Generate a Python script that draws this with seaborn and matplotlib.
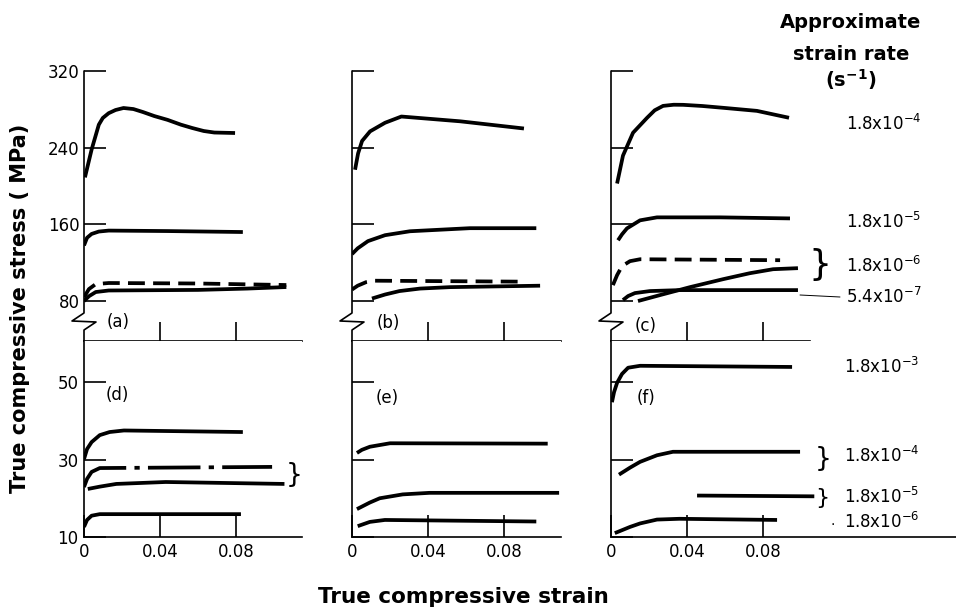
import matplotlib
matplotlib.use("Agg")
import matplotlib.pyplot as plt
from matplotlib.lines import Line2D
import seaborn as sns

# ---- data (strain, stress in MPa) ----
# (a)
a1_x = [0.0005, 0.004, 0.0078, 0.0099, 0.013, 0.0166, 0.0208, 0.026, 0.031, 0.037,
        0.044, 0.051, 0.057, 0.063, 0.0686, 0.0795]
a1_y = [209, 238, 264, 271, 276, 279.3, 281.4, 280.3, 277.2, 273,
        269, 264, 260.5, 257.4, 255.8, 255.3]
a2_x = [0, 0.0016, 0.004, 0.0078, 0.013, 0.044, 0.0836]
a2_y = [138, 146, 150, 152.5, 153.5, 153, 152]
a3_x = [0, 0.0026, 0.0062, 0.013, 0.06, 0.1065]
a3_y = [84, 92.5, 97.7, 98.8, 98.3, 96.7]
a4_x = [0, 0.0026, 0.0062, 0.013, 0.06, 0.086, 0.1065]
a4_y = [80, 85, 89.4, 91, 91.6, 93, 94.6]
# (b)
b1_x = [0.0016, 0.0032, 0.0053, 0.0095, 0.0174, 0.026, 0.057, 0.0905]
b1_y = [217, 234, 247, 257, 266, 272.5, 267.5, 260]
b2_x = [0, 0.003, 0.0084, 0.0174, 0.0305, 0.062, 0.097]
b2_y = [129, 135, 142.5, 148.7, 152.8, 156, 156]
b3_x = [0, 0.003, 0.0074, 0.012, 0.0516, 0.091]
b3_y = [92, 96, 99.7, 101.2, 100.7, 100.2]
b4_x = [0.0105, 0.0174, 0.025, 0.0358, 0.0516, 0.099]
b4_y = [82.6, 86.8, 90.4, 93, 94.5, 96]
# (c)
c1_x = [0.0032, 0.0063, 0.0116, 0.019, 0.023, 0.0274, 0.033, 0.038, 0.048, 0.059,
        0.0768, 0.0937]
c1_y = [202.6, 231.7, 255.6, 271.2, 279, 283.6, 284.8, 284.7, 283.5, 281.6,
        278.4, 271.2]
c2_x = [0.0037, 0.0058, 0.0084, 0.0153, 0.0242, 0.0574, 0.0942]
c2_y = [143.4, 149.6, 155.8, 164.2, 167.3, 167.3, 166.2]
c3_x = [0.001, 0.0032, 0.0058, 0.01, 0.0153, 0.089]
c3_y = [96.6, 107, 116.4, 121.6, 123.6, 122.6]
c4_x = [0.0142, 0.0258, 0.0416, 0.059, 0.073, 0.0853, 0.0984]
c4_y = [80, 86.2, 94.5, 102.8, 109, 113.2, 114.3]
c5_x = [0.0063, 0.009, 0.0126, 0.0205, 0.0363, 0.0984]
c5_y = [81, 85.2, 88.3, 90.4, 91.4, 91.4]
# (d)
d1_x = [0, 0.0016, 0.004, 0.0083, 0.0135, 0.021, 0.0836]
d1_y = [30.1, 32.7, 34.5, 36.3, 37.1, 37.5, 37.1]
d2_x = [0, 0.0016, 0.004, 0.0083, 0.099]
d2_y = [22.9, 25, 26.8, 27.8, 28.1]
d3_x = [0.002, 0.0083, 0.017, 0.043, 0.1055]
d3_y = [22.4, 23, 23.7, 24.2, 23.7]
d4_x = [0, 0.0016, 0.004, 0.0083, 0.0826]
d4_y = [12.6, 14.4, 15.5, 15.9, 15.9]
# (e)
e1_x = [0.0026, 0.0052, 0.0094, 0.02, 0.103]
e1_y = [31.7, 32.5, 33.3, 34.2, 34.1]
e2_x = [0.0026, 0.0094, 0.0146, 0.0267, 0.0408, 0.109]
e2_y = [17.2, 18.9, 20, 21, 21.4, 21.4]
e3_x = [0.003, 0.0094, 0.0173, 0.097]
e3_y = [12.8, 13.9, 14.4, 14]
# (f)
f1_x = [0.0005, 0.0016, 0.0032, 0.0058, 0.009, 0.0153, 0.0953]
f1_y = [44.8, 47.4, 49.8, 52.1, 53.7, 54.2, 53.9]
f2_x = [0.0042, 0.01, 0.0153, 0.0242, 0.0326, 0.0995]
f2_y = [26.1, 27.9, 29.4, 31.1, 32, 32]
f3_x = [0.0453, 0.107]
f3_y = [20.7, 20.5]
f4_x = [0.002, 0.01, 0.0153, 0.0242, 0.036, 0.0874]
f4_y = [11, 12.6, 13.5, 14.5, 14.7, 14.4]

top_yticks = [80, 160, 240, 320]
bot_yticks = [10, 30, 50]
xticks = [0, 0.04, 0.08]
xtick_labels = ["0", "0.04", "0.08"]
top_rates = ["1.8x10$^{-4}$", "1.8x10$^{-5}$", "1.8x10$^{-6}$", "5.4x10$^{-7}$"]
bot_rates = ["1.8x10$^{-3}$", "1.8x10$^{-4}$", "1.8x10$^{-5}$", "1.8x10$^{-6}$"]

sns.set_style("ticks")
plt.rcParams['font.family'] = ['DejaVu Sans']
plt.rcParams.update({'text.color': 'black', 'axes.labelcolor': 'black',
                     'xtick.color': 'black', 'ytick.color': 'black',
                     'axes.edgecolor': 'black'})

W, H = 956, 612
fig = plt.figure(figsize=(W / 100, H / 100), dpi=100)


def px(x, y):
    return x / W, 1 - y / H


def make_ax(left, right, top, bottom):
    return fig.add_axes([left / W, 1 - bottom / H, (right - left) / W, (bottom - top) / H])


# columns: pixel left/right, top row 71-341, bottom row 341-537
cols = [(84, 302), (352, 561), (611, 810)]
tops = [make_ax(l, r, 71, 341) for l, r in cols]
bots = [make_ax(84, 302, 341, 537), make_ax(352, 561, 341, 537), make_ax(611, 956, 341, 537)]

LW = 2.7
dash = (0, (4.5, 2.2))
dashdot = (0, (14, 2.2, 1.4, 2.2))


def draw(ax, xs, ys, ls='-'):
    sns.lineplot(x=xs, y=ys, ax=ax, color='black', lw=LW, sort=False,
                 estimator=None, linestyle=ls, solid_capstyle='butt')


draw(tops[0], a1_x, a1_y)
draw(tops[0], a2_x, a2_y)
draw(tops[0], a3_x, a3_y, dash)
draw(tops[0], a4_x, a4_y)
draw(tops[1], b1_x, b1_y)
draw(tops[1], b2_x, b2_y)
draw(tops[1], b3_x, b3_y, dash)
draw(tops[1], b4_x, b4_y)
draw(tops[2], c1_x, c1_y)
draw(tops[2], c2_x, c2_y)
draw(tops[2], c3_x, c3_y, dash)
draw(tops[2], c4_x, c4_y)
draw(tops[2], c5_x, c5_y)
draw(bots[0], d1_x, d1_y)
draw(bots[0], d2_x, d2_y, dashdot)
draw(bots[0], d3_x, d3_y)
draw(bots[0], d4_x, d4_y)
draw(bots[1], e1_x, e1_y)
draw(bots[1], e2_x, e2_y)
draw(bots[1], e3_x, e3_y)
draw(bots[2], f1_x, f1_y)
draw(bots[2], f2_x, f2_y)
draw(bots[2], f3_x, f3_y)
draw(bots[2], f4_x, f4_y)

for i, ax in enumerate(tops):
    l, r = cols[i]
    ax.set_xlim(0, (r - l) / 1900)
    ax.set_ylim(38.3, 320)
    for s in ['top', 'right', 'left']:
        ax.spines[s].set_visible(False)
    ax.spines['bottom'].set_linewidth(1.2)
    ax.set_xticks([0.04, 0.08])
    ax.set_xticklabels([])
    ax.set_yticks(top_yticks)
    ax.tick_params(axis='x', direction='in', length=14, width=1.2, color='black')
    ax.tick_params(axis='y', direction='in', length=16, width=1.2, color='black',
                   labelsize=12, pad=3)
    if i > 0:
        ax.set_yticklabels([])
    # left axis with break mark
    w = r - l
    bx = [0, 0, -12 / w, 12 / w, 0, 0]
    by = [1, (341 - 313) / 270, (341 - 321) / 270, (341 - 322) / 270, (341 - 330) / 270, 0]
    ax.plot(bx, by, color='black', lw=1.2, transform=ax.transAxes, clip_on=False)

bot_right = [302, 561, 956]
for i, ax in enumerate(bots):
    l = cols[i][0]
    ax.set_xlim(0, (bot_right[i] - l) / 1900)
    ax.set_ylim(10, 60.6)
    for s in ['top', 'right']:
        ax.spines[s].set_visible(False)
    for s in ['left', 'bottom']:
        ax.spines[s].set_linewidth(1.2)
    ax.set_xticks(xticks)
    ax.set_xticklabels(xtick_labels)
    ax.set_yticks(bot_yticks)
    ax.tick_params(axis='both', direction='in', length=16, width=1.2, color='black',
                   labelsize=12, pad=4)
    if i > 0:
        ax.set_yticklabels([])
    ax.set_xlabel('')
    ax.set_ylabel('')

# panel labels
for lab, (x, y) in zip(['(a)', '(b)', '(c)', '(d)', '(e)', '(f)'],
                       [(118, 322), (388, 323), (646, 326), (117, 395), (387, 398), (646, 398)]):
    fig.text(*px(x, y), lab, fontsize=12, ha='center', va='center')

# axis titles
fig.text(*px(20, 308), 'True compressive stress ( MPa)', rotation=90, fontsize=15,
         fontweight='bold', ha='center', va='center')
fig.text(*px(463, 597), 'True compressive strain', fontsize=15.5, fontweight='bold',
         ha='center', va='center')

# strain rate key
fig.text(*px(851, 22), 'Approximate', fontsize=14, fontweight='bold', ha='center', va='center')
fig.text(*px(851, 55), 'strain rate', fontsize=14, fontweight='bold', ha='center', va='center')
fig.text(*px(851, 80), r'(s$^{\mathbf{-1}}$)', fontsize=14, fontweight='bold',
         ha='center', va='center')

for lab, y in zip(top_rates, [124, 222, 266, 297]):
    fig.text(*px(846, y), lab, fontsize=12, ha='left', va='center')
for lab, y in zip(bot_rates, [367, 456, 497, 522]):
    fig.text(*px(844, y), lab, fontsize=12, ha='left', va='center')

# braces and leader marks
for x, y, s in [(820, 265, 26), (823, 459, 19), (822, 498, 16), (294, 475, 19)]:
    fig.text(*px(x, y), '}', fontsize=s, ha='center', va='center')
fig.add_artist(Line2D([800 / W, 840 / W], [1 - 295 / H, 1 - 297 / H], color='black', lw=0.7))
fig.text(*px(833, 525), '·', fontsize=10, ha='center', va='center')

fig.savefig('out.png', dpi=100)
